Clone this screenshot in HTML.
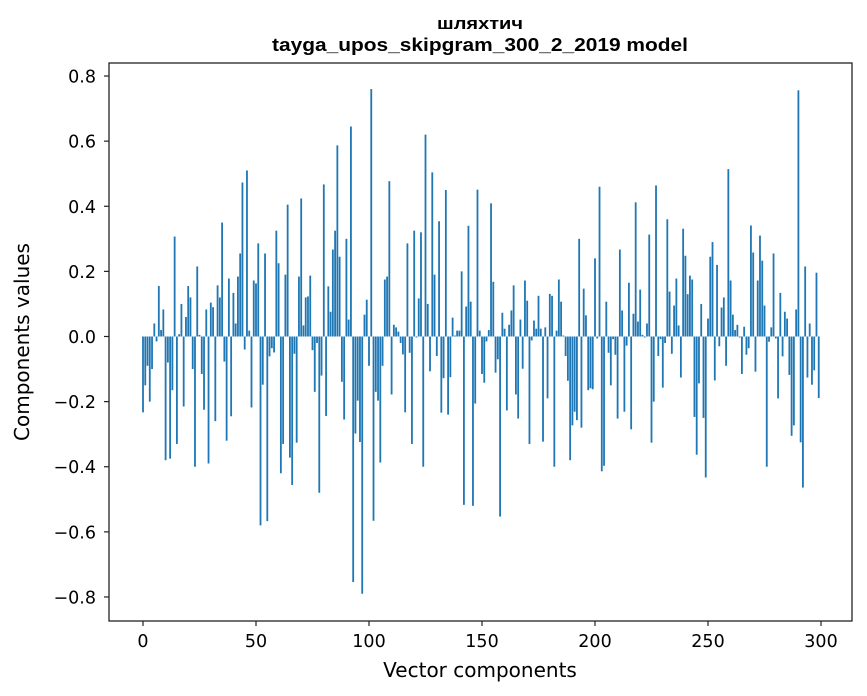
<!DOCTYPE html>
<html><head><meta charset="utf-8"><style>
body{margin:0;background:#fff;}
svg{display:block;font-family:"DejaVu Sans",sans-serif;}
</style></head><body>
<svg id="chart" width="867" height="696">
<text x="480" y="29" text-anchor="middle" font-family="Liberation Sans" font-size="17" font-weight="bold" textLength="86" lengthAdjust="spacingAndGlyphs">шляхтич</text>
<text x="480" y="51" text-anchor="middle" font-family="Liberation Sans" font-size="18" font-weight="bold" textLength="416" lengthAdjust="spacingAndGlyphs">tayga_upos_skipgram_300_2_2019 model</text>
<text x="480" y="677" text-anchor="middle" font-size="20">Vector components</text>
<text transform="translate(29,342) rotate(-90)" text-anchor="middle" font-size="20">Components values</text>
<g id="bars"></g>
<g id="axes"></g>
</svg>
<script>
const xTicks=[0,50,100,150,200,250,300];
const yTicks=[-0.8,-0.6,-0.4,-0.2,0.0,0.2,0.4,0.6,0.8];
const yTickLabels=["\u22120.8","\u22120.6","\u22120.4","\u22120.2","0.0","0.2","0.4","0.6","0.8"];
const values=[
-0.233,-0.15,-0.09,-0.2,-0.1,0.04,-0.015,0.155,0.02,0.083,-0.38,-0.08,-0.375,-0.165,0.307,-0.33,0.007,0.1,-0.215,0.06,
0.155,0.12,-0.1,-0.4,0.215,0.005,-0.115,-0.225,0.083,-0.39,0.104,0.09,-0.26,0.157,0.12,0.35,-0.077,-0.32,0.178,-0.245,
0.134,0.04,0.184,0.255,0.473,-0.04,0.51,0.018,-0.218,0.172,0.163,
0.286,-0.58,-0.148,0.255,-0.567,-0.061,-0.036,-0.049,0.325,0.225,-0.42,-0.33,0.19,0.405,-0.372,-0.456,-0.053,-0.326,0.184,
0.424,0.034,0.12,0.123,0.187,-0.042,-0.17,-0.02,-0.48,-0.12,0.467,-0.244,0.154,0.076,0.267,0.325,0.587,0.245,-0.139,-0.255,
0.3,0.052,0.645,-0.754,-0.298,-0.197,-0.324,-0.79,0.067,0.113,
-0.09,0.76,-0.566,-0.17,-0.197,-0.387,-0.09,0.175,0.184,0.477,-0.178,0.036,0.028,0.015,-0.02,-0.055,-0.233,0.286,-0.05,-0.33,
0.325,-0.003,0.117,0.32,-0.4,0.62,0.1,-0.107,0.504,0.19,-0.06,0.354,-0.234,-0.128,0.45,-0.24,-0.125,0.058,0.003,0.018,
0.018,0.2,-0.517,0.092,0.34,0.107,-0.52,-0.206,0.451,0.018,-0.115,
-0.142,-0.015,0.02,0.409,0.168,-0.111,-0.07,-0.553,0.073,0.024,-0.227,0.036,0.08,0.157,-0.178,-0.252,0.052,-0.099,0.172,0.11,
-0.33,-0.012,0.049,0.024,0.125,0.024,-0.323,0.028,-0.19,0.131,0.125,-0.4,0.018,0.175,0.107,0.003,-0.06,-0.136,-0.38,-0.273,
-0.231,-0.257,0.3,-0.28,0.147,0.065,-0.165,-0.159,-0.162,
0.24,-0.006,0.46,-0.414,-0.397,0.107,-0.05,-0.15,-0.008,-0.056,-0.252,0.267,0.08,-0.231,-0.028,0.165,-0.285,0.07,0.412,0.046,
0.144,0.005,-0.003,0.04,0.313,-0.326,-0.2,0.464,-0.06,-0.008,-0.157,-0.02,0.36,0.138,-0.053,0.095,0.178,0.034,-0.126,0.331,
0.248,0.13,0.187,0.175,-0.247,-0.363,-0.144,0.1,-0.25,-0.433,0.055,
0.245,0.29,-0.135,0.22,-0.03,0.089,0.12,-0.09,0.514,0.172,0.067,0.02,0.036,-0.003,-0.115,0.03,-0.056,-0.036,0.341,0.258,
-0.108,0.172,0.31,0.233,0.095,-0.4,-0.016,0.028,0.255,-0.006,-0.19,0.134,-0.061,0.076,0.055,-0.118,-0.305,-0.273,0.083,0.756,
-0.325,-0.464,0.215,-0.126,0.04,-0.148,-0.104,0.196,-0.189
];
const NS="http://www.w3.org/2000/svg";
const L=109,R=852,T=63,B=621;
function xs(v){return 143+v*(821-143)/300;}
function ys(v){return 336.5-v*325.6;}
const bars=document.getElementById('bars');
values.forEach((v,i)=>{
  const r=document.createElementNS(NS,'rect');
  const x0=xs(i-0.4),x1=xs(i+0.4);
  const y0=Math.min(ys(0),ys(v)),h=Math.abs(ys(v)-ys(0));
  r.setAttribute('x',x0);r.setAttribute('y',y0);
  r.setAttribute('width',x1-x0);r.setAttribute('height',Math.max(h,0.3));
  r.setAttribute('fill','#1f77b4');
  
  
  bars.appendChild(r);
});
const ax=document.getElementById('axes');
const frame=document.createElementNS(NS,'rect');
frame.setAttribute('x',L);frame.setAttribute('y',T);frame.setAttribute('width',R-L);frame.setAttribute('height',B-T);
frame.setAttribute('fill','none');frame.setAttribute('stroke','#222');frame.setAttribute('stroke-width','1.3');


ax.appendChild(frame);
xTicks.forEach(t=>{
  const l=document.createElementNS(NS,'line');
  l.setAttribute('x1',xs(t));l.setAttribute('x2',xs(t));l.setAttribute('y1',B);l.setAttribute('y2',B+5);
  l.setAttribute('stroke','#222');l.setAttribute('stroke-width','1.2');
  
  
  ax.appendChild(l);
  const tx=document.createElementNS(NS,'text');
  tx.setAttribute('x',xs(t));tx.setAttribute('y',B+26);tx.setAttribute('text-anchor','middle');tx.setAttribute('font-size','17.5');
  tx.textContent=t;
  
  
  ax.appendChild(tx);
});
yTicks.forEach((t,i)=>{
  const l=document.createElementNS(NS,'line');
  l.setAttribute('x1',L-5);l.setAttribute('x2',L);l.setAttribute('y1',ys(t));l.setAttribute('y2',ys(t));
  l.setAttribute('stroke','#222');l.setAttribute('stroke-width','1.2');
  
  
  ax.appendChild(l);
  const tx=document.createElementNS(NS,'text');
  tx.setAttribute('x',L-13);tx.setAttribute('y',ys(t)+6.5);tx.setAttribute('text-anchor','end');tx.setAttribute('font-size','17.5');
  tx.textContent=yTickLabels[i];
  
  
  ax.appendChild(tx);
});
</script>
</body></html>
